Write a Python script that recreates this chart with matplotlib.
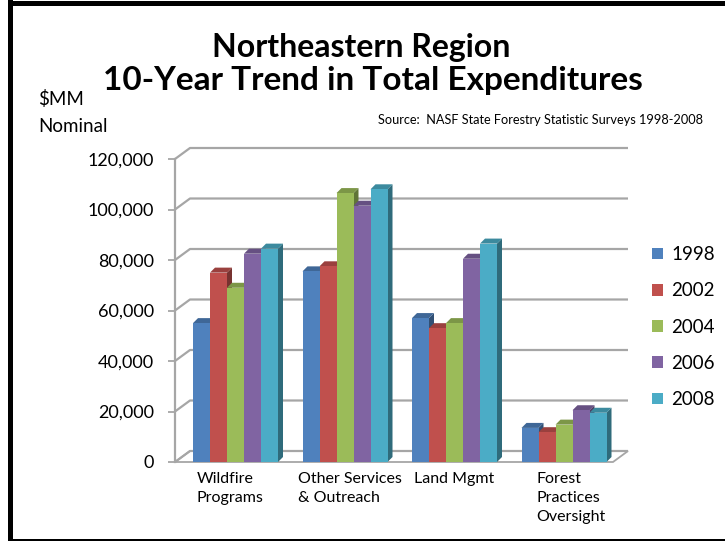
import numpy as np
import matplotlib
matplotlib.use("Agg")
from matplotlib import pyplot as plt
from matplotlib.patches import Polygon, Patch, Rectangle
from matplotlib.ticker import FuncFormatter
from matplotlib.colors import to_rgb

plt.rcParams['font.family'] = ['Lato', 'DejaVu Sans']

categories = ["Wildfire\nPrograms", "Other Services\n& Outreach", "Land Mgmt",
              "Forest\nPractices\nOversight"]
years = ["1998", "2002", "2004", "2006", "2008"]
colors = ["#4F81BD", "#C0504D", "#9BBB59", "#8064A2", "#4BACC6"]

# expenditures, $MM nominal, one list per year
exp_1998 = [55000, 75500, 57000, 13500]
exp_2002 = [75000, 77500, 53000, 11800]
exp_2004 = [69000, 106500, 55000, 14800]
exp_2006 = [82500, 101500, 80500, 20500]
exp_2008 = [84500, 108000, 86500, 19500]
series = [exp_1998, exp_2002, exp_2004, exp_2006, exp_2008]

W, H = 725, 541
fig = plt.figure(figsize=(W / 100, H / 100), dpi=100)

# plot area in pixels: front axis at x=175, x=4 at 613, zero at y=462, top at y=159
px_left, px_right, px_zero, px_top = 175, 613, 462, 159
ax = fig.add_axes([px_left / W, 1 - px_zero / H,
                   (px_right - px_left) / W, (px_zero - px_top) / H])
ymax = 120000
ax.set_xlim(0, 4)
ax.set_ylim(0, ymax)

ux = 4 / (px_right - px_left)          # x units per pixel
uy = ymax / (px_zero - px_top)         # y units per pixel

wall_dx, wall_dy = 15 * ux, 11 * uy     # back wall offset
bar_dx, bar_dy = 5 * ux, 5 * uy         # bar depth
grid_c = "#a6a6a6"

# floor
floor = Polygon([(0, 0), (4, 0), (4 + wall_dx, wall_dy), (wall_dx, wall_dy)],
                closed=True, facecolor="white", edgecolor=grid_c, lw=1.3,
                clip_on=False, zorder=1)
ax.add_patch(floor)

# back wall gridlines with diagonal to the front axis
for v in range(0, ymax + 1, 20000):
    ax.plot([0, wall_dx, 4 + wall_dx], [v, v + wall_dy, v + wall_dy],
            color=grid_c, lw=1.6, clip_on=False, zorder=1,
            solid_capstyle='butt')


def shade(c, f):
    r, g, b = to_rgb(c)
    return (r * f, g * f, b * f)


bw = 85 / 5 * ux
start = 18 * ux
for j, vals in enumerate(series):
    for i, v in enumerate(vals):
        x0 = i + start + j * bw
        x1 = x0 + bw
        z = 3 + i * 0.01 + j * 0.001
        ax.add_patch(Polygon([(x1, 0), (x1, v), (x1 + bar_dx, v + bar_dy),
                              (x1 + bar_dx, bar_dy)], closed=True,
                             facecolor=shade(colors[j], 0.62), lw=0,
                             clip_on=False, zorder=z))
        ax.add_patch(Polygon([(x0, v), (x1, v), (x1 + bar_dx, v + bar_dy),
                              (x0 + bar_dx, v + bar_dy)], closed=True,
                             facecolor=shade(colors[j], 0.8), lw=0,
                             clip_on=False, zorder=z))
        ax.bar(x0, v, width=bw, align='edge', color=colors[j], lw=0,
               zorder=z + 0.0005)

# front value axis
for s in ["top", "right", "bottom"]:
    ax.spines[s].set_visible(False)
ax.spines["left"].set_color(grid_c)
ax.spines["left"].set_linewidth(1.6)
ax.set_xticks([])
ax.set_yticks(range(0, ymax + 1, 20000))
ax.yaxis.set_major_formatter(FuncFormatter(lambda v, p: f"{int(v):,}"))
ax.tick_params(axis='y', length=5, width=1.3, color=grid_c, labelsize=13,
               pad=10)

# category labels below the floor
label_x = [0.2, 1.12, 2.18, 3.3]
for xl, cat in zip(label_x, categories):
    ax.text(xl, -4000, cat, ha='left', va='top', fontsize=11.5,
            linespacing=1.45)

# legend
handles = [Patch(facecolor=c, edgecolor='none') for c in colors]
fig.legend(handles, years, loc='upper left',
           bbox_to_anchor=(643 / W, 1 - 237 / H), frameon=False,
           fontsize=13.5, handlelength=0.55, handleheight=0.55,
           handletextpad=0.45, labelspacing=1.02, borderpad=0)

# titles and notes
fig.text(361 / W, 1 - 57 / H, "Northeastern Region", ha='center',
         va='baseline', fontsize=23, fontweight='bold')
fig.text(373 / W, 1 - 90 / H, "10-Year Trend in Total Expenditures",
         ha='center', va='baseline', fontsize=24, fontweight='bold')
fig.text(38 / W, 1 - 105 / H, "$MM", ha='left', va='baseline', fontsize=13.5)
fig.text(38 / W, 1 - 132 / H, "Nominal", ha='left', va='baseline',
         fontsize=13.5)
fig.text(703 / W, 1 - 124 / H,
         "Source:  NASF State Forestry Statistic Surveys 1998-2008",
         ha='right', va='baseline', fontsize=9.2)

# slide frame
fig.patches.append(Rectangle((8 / W, 0), 4.5 / W, 1, transform=fig.transFigure,
                             facecolor='black', lw=0, zorder=10))
fig.patches.append(Rectangle((8 / W, 1 - 6 / H), 1, 5 / H,
                             transform=fig.transFigure, facecolor='black',
                             lw=0, zorder=10))
fig.patches.append(Rectangle((8 / W, 0), 1, 2 / H, transform=fig.transFigure,
                             facecolor='black', lw=0, zorder=10))

fig.savefig("out.png", dpi=100)
